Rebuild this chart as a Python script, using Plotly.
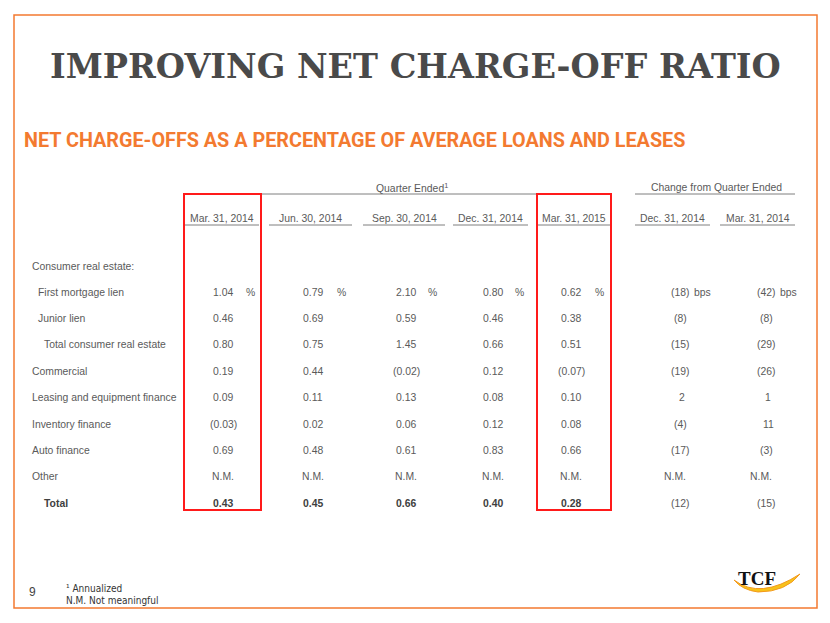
import plotly.graph_objects as go

# ---------------- data ----------------
title = "IMPROVING NET CHARGE-OFF RATIO"
subtitle = "NET CHARGE-OFFS AS A PERCENTAGE OF AVERAGE LOANS AND LEASES"

quarter_cols = ["Mar. 31, 2014", "Jun. 30, 2014", "Sep. 30, 2014", "Dec. 31, 2014", "Mar. 31, 2015"]
change_cols = ["Dec. 31, 2014", "Mar. 31, 2014"]

row_labels = ["First mortgage lien", "Junior lien", "Total consumer real estate", "Commercial",
              "Leasing and equipment finance", "Inventory finance", "Auto finance", "Other", "Total"]
row_indent = [1, 1, 2, 0, 0, 0, 0, 0, 2]
group_label = "Consumer real estate:"

# None = N.M. (not meaningful)
q_mar14 = [1.04, 0.46, 0.80, 0.19, 0.09, -0.03, 0.69, None, 0.43]
q_jun14 = [0.79, 0.69, 0.75, 0.44, 0.11, 0.02, 0.48, None, 0.45]
q_sep14 = [2.10, 0.59, 1.45, -0.02, 0.13, 0.06, 0.61, None, 0.66]
q_dec14 = [0.80, 0.46, 0.66, 0.12, 0.08, 0.12, 0.83, None, 0.40]
q_mar15 = [0.62, 0.38, 0.51, -0.07, 0.10, 0.08, 0.66, None, 0.28]
chg_dec14 = [-18, -8, -15, -19, 2, -4, -17, None, -12]
chg_mar14 = [-42, -8, -29, -26, 1, 11, -3, None, -15]

footnotes = ["\u00b9 Annualized", "N.M. Not meaningful"]
page_no = "9"

# ---------------- layout helpers ----------------
W, H = 830, 623
OFF = 8  # browser body margin
GRAY = "#5a5a5a"
ORANGE = "#f37a30"
RED = "#ff1a1a"
FONT = "Arial, Liberation Sans, sans-serif"
FS = 10.4

q_centers = [223, 313, 406, 493, 571]
q_pct_x = [250, 341, 432, 519, 599]
q_line = [(185, 259), (269, 352), (363, 445), (453, 528), (538, 610)]
c_centers = [680, 766]
c_bps_x = [702, 788]
c_line = [(635, 710), (720, 795)]

row_y0, row_dy = 292, 26.4
label_x = [30, 36, 42]


def fmt_pct(v):
    if v is None:
        return "N.M."
    return f"({abs(v):.2f})" if v < 0 else f"{v:.2f}"


def fmt_bps(v):
    if v is None:
        return "N.M."
    return f"({abs(v)})" if v < 0 else f"{v}"


fig = go.Figure()
ann = []
shapes = []


def text(x, y, s, size=FS, color=GRAY, anchor="center", bold=False, family=FONT):
    ann.append(dict(x=x, y=y, xref="x", yref="y", text=(f"<b>{s}</b>" if bold else s),
                    showarrow=False, xanchor=anchor, yanchor="middle",
                    font=dict(size=size, color=color, family=family)))


def line(x0, y0, x1, y1, color="#7f7f7f", width=1):
    shapes.append(dict(type="line", xref="x", yref="y", x0=x0, y0=y0, x1=x1, y1=y1,
                       line=dict(color=color, width=width)))


# slide border
shapes.append(dict(type="rect", xref="x", yref="y", x0=14, y0=15, x1=817, y1=608,
                   line=dict(color=ORANGE, width=1.5)))

# titles
text(415, 66, title, size=33.5, color="#4a4a4a", bold=True,
     family="DejaVu Serif, Liberation Serif, serif")
text(22, 140, subtitle, size=19.8, color=ORANGE, anchor="left", bold=True,
     family="Roboto, Arial, sans-serif")

# header groups
text(412, 187, "Quarter Ended<sup>1</sup>")
line(183, 194, 611, 194)
text(716, 187, "Change from Quarter Ended")
line(635, 194, 795, 194)

for c, lbl, (a, b) in zip(q_centers, quarter_cols, q_line):
    text((a + b) / 2, 218, lbl)
    line(a, 225, b, 225)
for lbl, (a, b) in zip(change_cols, c_line):
    text((a + b) / 2, 218, lbl)
    line(a, 225, b, 225)

# row labels
text(30, 266, group_label, anchor="left")
for i, (lbl, ind) in enumerate(zip(row_labels, row_indent)):
    y = row_y0 + i * row_dy
    is_total = lbl == "Total"
    text(label_x[ind], y, lbl, anchor="left", bold=is_total,
         color="#404040" if is_total else GRAY)

# values
quarter_series = [q_mar14, q_jun14, q_sep14, q_dec14, q_mar15]
for j, series in enumerate(quarter_series):
    for i, v in enumerate(series):
        y = row_y0 + i * row_dy
        is_total = row_labels[i] == "Total"
        text(q_centers[j], y, fmt_pct(v), bold=is_total,
             color="#404040" if is_total else GRAY)
        if i == 0:
            text(q_pct_x[j], y, "%")

for j, series in enumerate([chg_dec14, chg_mar14]):
    for i, v in enumerate(series):
        y = row_y0 + i * row_dy
        s = fmt_bps(v)
        x = c_centers[j]
        if v is not None and v >= 0:
            x += 2
        if v is None:
            x -= 5
        text(x, y, s)
        if i == 0:
            text(c_bps_x[j], y, "bps")

# red highlight boxes
for x0, x1 in [(184, 261), (537, 611)]:
    shapes.append(dict(type="rect", xref="x", yref="y", x0=x0, y0=194, x1=x1, y1=510,
                       line=dict(color=RED, width=2)))

# footer
text(32, 592, page_no, size=12, color="#444444")
text(64, 588, footnotes[0], size=10, color="#333333", anchor="left",
     family="DejaVu Sans Condensed, DejaVu Sans, sans-serif")
text(64, 600, footnotes[1], size=10, color="#333333", anchor="left",
     family="DejaVu Sans Condensed, DejaVu Sans, sans-serif")

# TCF logo
shapes.append(dict(type="path", xref="x", yref="y",
                   path="M 734,580 Q 760,600 800,574 Q 786,592 758,592 Q 742,590 734,580 Z",
                   fillcolor="#f7c21a", line=dict(color="#f39a1e", width=1)))
text(757, 578, "TCF", size=19, color="#111111", bold=True,
     family="Liberation Serif, DejaVu Serif, serif")

fig.update_layout(
    width=W - OFF, height=H - OFF,
    margin=dict(l=0, r=0, t=0, b=0),
    paper_bgcolor="white", plot_bgcolor="white",
    xaxis=dict(range=[OFF, W], visible=False, fixedrange=True),
    yaxis=dict(range=[H, OFF], visible=False, fixedrange=True),
    annotations=ann, shapes=shapes, showlegend=False,
)

fig.write_html("out.html")
